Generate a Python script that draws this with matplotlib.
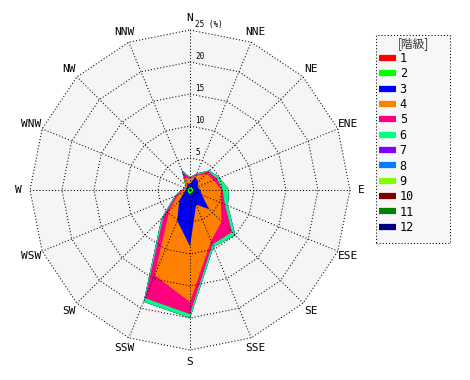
import numpy as np
import matplotlib
matplotlib.use('Agg')
import matplotlib.pyplot as plt
from matplotlib.lines import Line2D
from matplotlib.patches import Rectangle

# ---- data ----
directions = ['N', 'NNE', 'NE', 'ENE', 'E', 'ESE', 'SE', 'SSE',
              'S', 'SSW', 'SW', 'WSW', 'W', 'WNW', 'NW', 'NNW']
class_labels = ['1', '2', '3', '4', '5', '6', '7', '8', '9', '10', '11', '12']
class_colors = ['#ff0000', '#00ff00', '#0000ff', '#ff8000', '#ff0080', '#00ff80',
                '#8000ff', '#0080ff', '#80ff00', '#800000', '#008000', '#000080']

# frequency (%) per class, per direction (N, NNE, ... NNW)
class_1 = [0.1, 0.1, 0.1, 0.1, 0.2, 0.2, 0.2, 0.2, 0.2, 0.2, 0.1, 0.1, 0.1, 0.1, 0.1, 0.1]
class_2 = [0.3, 0.4, 0.4, 0.4, 0.4, 0.4, 0.4, 0.4, 0.5, 0.4, 0.4, 0.3, 0.3, 0.2, 0.2, 0.3]
class_3 = [0.6, 1.7, 1.3, 0.8, 1.0, 1.4, 3.6, 1.9, 8.1, 4.6, 1.9, 0.6, 0.3, 0.2, 0.3, 0.7]
class_4 = [0.7, 0.2, 1.8, 2.7, 3.3, 3.2, 2.8, 6.1, 8.7, 9.2, 2.2, 1.0, 0.3, 0.2, 0.2, 1.1]
class_5 = [0.2, 0.2, 0.5, 0.6, 0.2, 0.7, 2.3, 0.6, 1.9, 3.9, 1.3, 0.4, 0.2, 0.1, 0.1, 0.8]
class_6 = [0.1, 0.2, 0.2, 0.4, 1.0, 0.5, 0.7, 0.4, 0.6, 0.6, 0.4, 0.2, 0.1, 0.1, 0.1, 0.3]
class_7 = [0.0] * 16
class_8 = [0.0] * 16
class_9 = [0.0] * 16
class_10 = [0.0] * 16
class_11 = [0.0] * 16
class_12 = [0.0] * 16

ring_values = [5, 10, 15, 20, 25]
ring_labels = ['5', '10', '15', '20', '25 (%)']
legend_title = '[階級]'

# ---- figure ----
W, H = 470, 380
PX = 6.4  # pixels per percent
fig = plt.figure(figsize=(W / 100, H / 100), dpi=100)
fig.patch.set_facecolor('white')
ax = fig.add_axes([0, 0, 380 / W, 1])
half = 190 / PX
ax.set_xlim(-half, half)
ax.set_ylim(-half, half)
ax.set_aspect('equal')
ax.axis('off')

theta = np.deg2rad(np.arange(len(directions)) * 22.5)
ux, uy = np.sin(theta), np.cos(theta)

def closed(a):
    return np.append(a, a[0])

rmax = ring_values[-1]
ax.fill(ux * rmax, uy * rmax, color='#f5f5f5', lw=0, zorder=0)

freqs = np.array([class_1, class_2, class_3, class_4, class_5, class_6,
                  class_7, class_8, class_9, class_10, class_11, class_12])
cum = np.cumsum(freqs, axis=0)
for k in reversed(range(len(class_labels))):
    r = cum[k]
    ax.fill(r * ux, r * uy, color=class_colors[k], lw=0, zorder=1)

dot = (0, (1, 2))
for rv in ring_values:
    ax.plot(closed(ux * rv), closed(uy * rv), color='black', lw=0.75, ls=dot, zorder=3)
for i in range(len(directions)):
    ax.plot([0, ux[i] * rmax], [0, uy[i] * rmax], color='black', lw=0.75, ls=dot, zorder=3)

mono = 'DejaVu Sans Mono'
for i, d in enumerate(directions):
    ax.text(ux[i] * 26.8, uy[i] * 26.8, d, ha='center', va='center',
            family=mono, fontsize=8, color='black')
for rv, lab in zip(ring_values, ring_labels):
    ax.text(0.85, rv + 0.1, lab, ha='left', va='bottom', family=mono,
            fontsize=5.5, color='black', zorder=4)

# ---- legend ----
box = Rectangle((375.5 / W, 1 - 243 / H), (450 - 375.5) / W, (243 - 35) / H,
                transform=fig.transFigure, facecolor='#f7f7f7', edgecolor='black',
                lw=0.75, ls=dot)
fig.add_artist(box)
fig.text(413 / W, 1 - 43.5 / H, legend_title, ha='center', va='center',
         family=['Noto Sans CJK JP', 'DejaVu Sans'], fontsize=8.5, color='#333333')
handles = [Line2D([], [], color=c, lw=4.5, solid_capstyle='butt') for c in class_colors]
fig.legend(handles, class_labels, loc='upper left',
           bbox_to_anchor=(379 / W, 1 - 52 / H), frameon=False,
           prop={'family': mono, 'size': 8.5}, handlelength=1.4,
           handletextpad=0.35, labelspacing=0.2, borderpad=0, borderaxespad=0)

fig.savefig('out.png', dpi=100)
